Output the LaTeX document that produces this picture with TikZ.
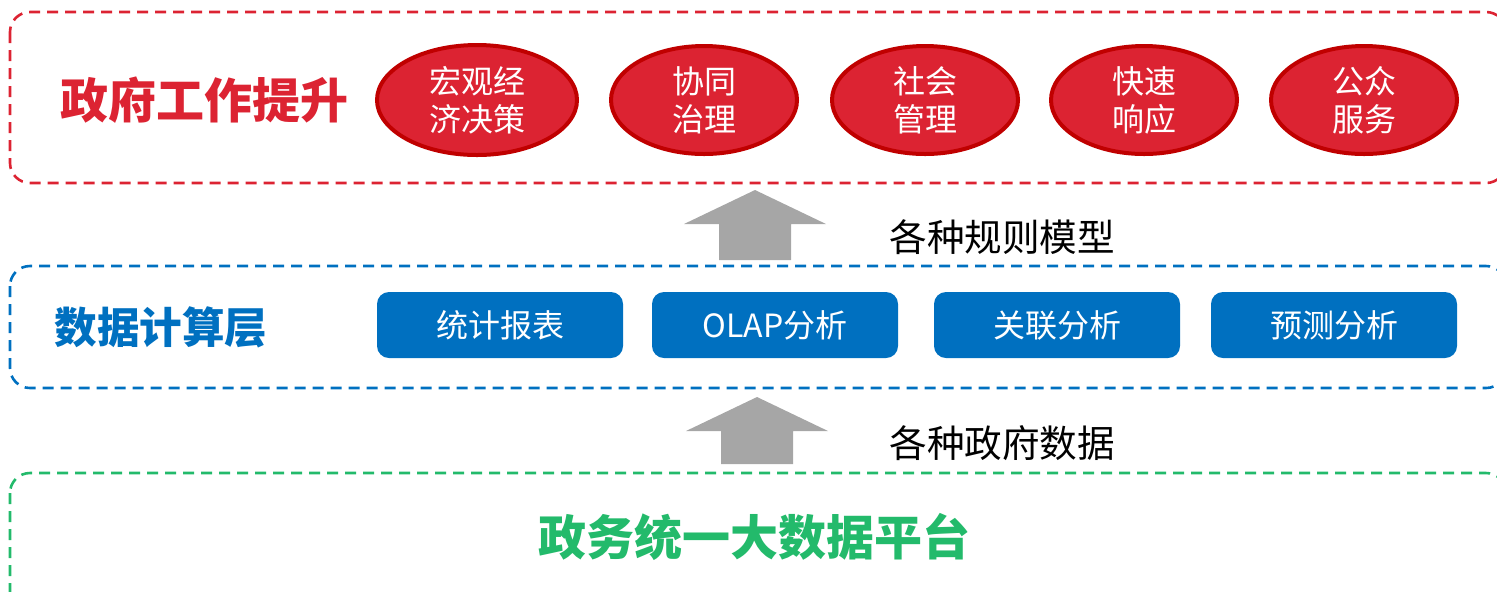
\documentclass[tikz,border=0pt]{standalone}
\usepackage{fontspec}
\newfontfamily\cjk{Noto Sans CJK SC}
\usetikzlibrary{shapes.geometric}
\definecolor{rred}{RGB}{220,35,50}
\definecolor{dred}{RGB}{192,0,0}
\definecolor{bblue}{RGB}{0,112,192}
\definecolor{ggreen}{RGB}{35,186,107}
\definecolor{agray}{RGB}{166,166,166}
\tikzset{
  layerbox/.style={line width=1.3pt, dash pattern=on 5.5pt off 3.5pt, rounded corners=10pt},
  oval/.style={ellipse, draw=dred, line width=2pt, fill=rred, text=white, minimum width=93pt, minimum height=54pt, inner sep=0pt, font=\cjk\fontsize{16pt}{19pt}\selectfont, align=center},
  bbox/.style={rectangle, rounded corners=6pt, fill=bblue, text=white, minimum width=123pt, minimum height=33pt, inner sep=0pt, font=\cjk\fontsize{16pt}{19pt}\selectfont},
  title/.style={font=\cjk\bfseries\fontsize{24pt}{28pt}\selectfont, inner sep=0pt},
  lbl/.style={font=\cjk\fontsize{18.8pt}{22pt}\selectfont, inner sep=0pt, anchor=west},
  bigarrow/.style={fill=agray, draw=none}
}
\begin{document}
\begin{tikzpicture}[x=0.5pt,y=-0.5pt]
\useasboundingbox (0,0) rectangle (1497,591);
\clip (0,0) rectangle (1497,591);
% layer boxes
\draw[layerbox, draw=rred] (10,12) rectangle (1506,183);
\draw[layerbox, draw=bblue] (10,266) rectangle (1506,388);
\draw[layerbox, draw=ggreen] (10,473) rectangle (1506,640);
% titles
\node[title, text=rred] (t1) at (204,100) {政府工作提升};
\node[title, text=bblue, font=\cjk\bfseries\fontsize{21.3pt}{25pt}\selectfont] (t2) at (161,327) {数据计算层};
\node[title, text=ggreen] (t3) at (754,537) {政务统一大数据平台};
% ellipses
\node[oval, minimum width=100pt, minimum height=55pt] (e1) at (477,100) {宏观经\\济决策};
\node[oval] (e2) at (704,100) {协同\\治理};
\node[oval] (e3) at (925,100) {社会\\管理};
\node[oval] (e4) at (1144,100) {快速\\响应};
\node[oval] (e5) at (1364,100) {公众\\服务};
% blue boxes
\node[bbox] (b1) at (500,325) {统计报表};
\node[bbox] (b2) at (775,325) {OLAP分析};
\node[bbox] (b3) at (1057,325) {关联分析};
\node[bbox] (b4) at (1334,325) {预测分析};
% arrows
\coordinate (a1) at (755,190);
\fill[bigarrow] (a1) -- (826,224) -- (791,224) -- (791,260) -- (719,260) -- (719,224) -- (684,224) -- cycle;
\coordinate (a2) at (757,397);
\fill[bigarrow] (a2) -- (828,431) -- (793,431) -- (793,464) -- (721,464) -- (721,431) -- (686,431) -- cycle;
% labels
\node[lbl] (l1) at (889,237) {各种规则模型};
\node[lbl] (l2) at (889,443) {各种政府数据};
\end{tikzpicture}
\end{document}
